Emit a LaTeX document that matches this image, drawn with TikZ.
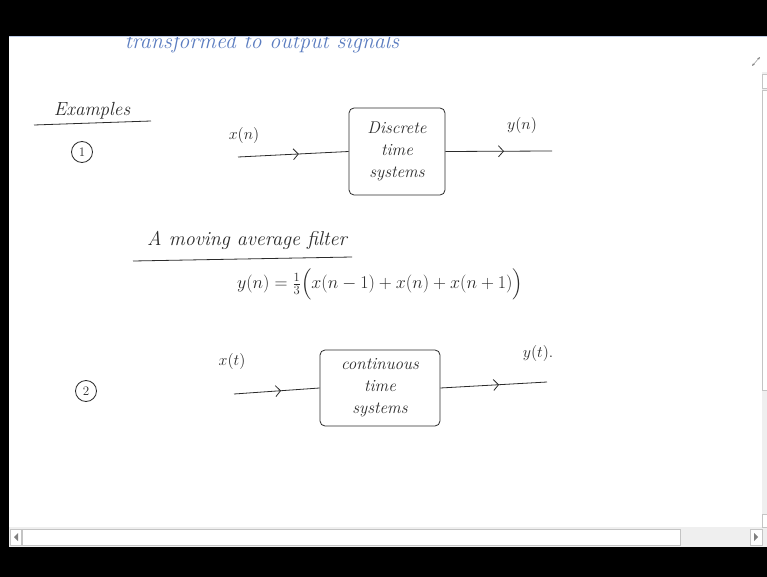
\RequirePackage{fix-cm}
\documentclass[tikz,border=0pt]{standalone}
\usepackage{amsmath}
\usepackage{xcolor}
\definecolor{inkgrey}{HTML}{2B2B2B}
\definecolor{inkblue}{HTML}{5A7CC0}
\definecolor{barline}{HTML}{C4C4C4}
\definecolor{bartrack}{HTML}{EFEFEF}
\usetikzlibrary{positioning,arrows.meta,decorations.markings}

\tikzset{
  sysbox/.style={draw=inkgrey, thick, rounded corners=5pt, align=center, text=inkgrey,
                 font=\itshape\fontsize{17}{22}\selectfont},
  sigline/.style={draw=inkgrey, thick, postaction={decorate},
                  decoration={markings, mark=at position 0.55 with {\arrow{Straight Barb[length=5pt,width=11pt]}}}},
  hand/.style={text=inkgrey, inner sep=0pt},
  numcirc/.style={draw=inkgrey, thick, circle, inner sep=0pt, minimum size=21pt, text=inkgrey,
                  font=\fontsize{13}{13}\selectfont},
}

\begin{document}
\begin{tikzpicture}[x=1pt, y=-1pt]
  \useasboundingbox (0,0) rectangle (767,577);
  % screen and page
  \fill[black] (0,0) rectangle (767,577);
  \fill[white] (9,36) rectangle (767,547);

  % heading cut by the top bar
  \node[text=inkblue, inner sep=0pt, font=\itshape\fontsize{22}{22}\selectfont] (trans) at (262,43) {transformed to output signals};
  \fill[black] (0,0) rectangle (767,36);
  \draw[inkblue!40] (9,36.5) -- (767,36.5);

  % example 1
  \node[hand, font=\itshape\fontsize{19}{19}\selectfont] (ex) at (92,111) {Examples};
  \draw[inkgrey, thick] (34,125) -- (151,121);
  \node[numcirc] (one) at (82,152) {1};

  \node[sysbox, minimum width=96pt, minimum height=87pt] (dts) at (397,151.5) {Discrete\\time\\systems};
  \coordinate (xnin) at (238,157);
  \coordinate (ynout) at (552,151);
  \draw[sigline] (xnin) -- (dts.west);
  \draw[sigline] (dts.east) -- (ynout);
  \node[hand, font=\fontsize{16}{16}\selectfont] (xn) at (244,136) {$x(n)$};
  \node[hand, font=\fontsize{16}{16}\selectfont] (yn) at (522,126) {$y(n)$};

  % moving average
  \node[hand, font=\itshape\fontsize{20}{20}\selectfont] (mav) at (247,240) {A moving average filter};
  \draw[inkgrey, thick] (133,261) -- (352,257);
  \node[hand, font=\fontsize{18}{18}\selectfont] (eq) at (380,284)
    {$y(n)=\tfrac{1}{3}\Bigl(x(n-1)+x(n)+x(n+1)\Bigr)$};

  % example 2
  \node[numcirc] (two) at (86,391) {2};
  \node[sysbox, minimum width=120pt, minimum height=76pt] (cts) at (380,388) {continuous\\time\\systems};
  \coordinate (xtin) at (234,394);
  \coordinate (ytout) at (547,382);
  \draw[sigline] (xtin) -- (cts.west);
  \draw[sigline] (cts.east) -- (ytout);
  \node[hand, font=\fontsize{16}{16}\selectfont] (xt) at (232,361) {$x(t)$};
  \node[hand, font=\fontsize{16}{16}\selectfont] (yt) at (538,353) {$y(t).$};

  % scroll bars
  \fill[bartrack] (9,527) rectangle (767,547);
  \draw[barline, fill=white] (22,529) rectangle (680,545);
  \draw[barline, fill=white] (10,529) rectangle (21,545);
  \draw[barline, fill=white] (750,529) rectangle (762,545);
  \fill[gray] (14,537) -- (18,533) -- (18,541) -- cycle;
  \fill[gray] (758,537) -- (754,533) -- (754,541) -- cycle;
  \fill[bartrack] (762,72) rectangle (767,527);
  \draw[barline, fill=white] (762,74) rectangle (767,88);
  \draw[barline, fill=white] (762,90) rectangle (767,390);
  \draw[barline, fill=white] (762,514) rectangle (767,527);
  \draw[gray, {Stealth[length=3pt]}-{Stealth[length=3pt]}] (752,66) -- (760,57);
\end{tikzpicture}
\end{document}
